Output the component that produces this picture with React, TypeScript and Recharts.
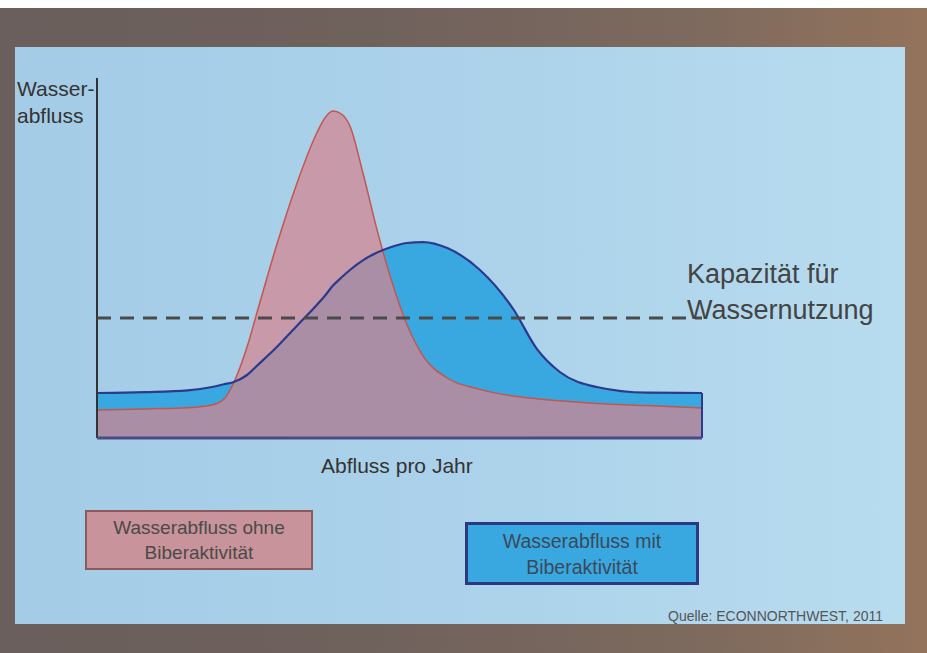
import { ComposedChart, Area, Line, XAxis, YAxis, ReferenceLine } from 'recharts';

// position along the year (0..100) and runoff heights
const xs = [0, 8, 15, 19, 21, 22.5, 24.8, 26.4, 29.8, 33.1, 36.4, 37.7, 39, 40.4, 41.8, 44, 46.3, 48.4, 51.2, 53.9, 57.9, 63.3, 68.8, 72.7, 76.5, 82.6, 90.9, 100];
const ohneBiber = [9.3, 9.7, 10.1, 11, 13, 18, 30.3, 41.5, 65, 85.2, 102, 106.8, 109, 108, 104, 88, 69.3, 54.3, 38, 27.3, 20, 16.2, 14, 13.1, 12.4, 11.5, 10.8, 10];
const mitBiber = [15, 15.3, 15.9, 17, 17.9, 18.6, 21, 24, 30.5, 37.5, 44.5, 47.5, 50.8, 53.5, 56, 59.3, 61.8, 63.5, 65, 65.3, 63.3, 56, 43, 29.7, 22, 17, 15.1, 15];
const kapazitaet = 40;

const data = xs.map((x, i) => ({ x, ohne: ohneBiber[i], mit: mitBiber[i] }));

const font = '"Liberation Sans", Arial, sans-serif';

export default function App() {
  return (
    <div style={{ position: 'absolute', left: 0, top: 0, width: 927, height: 653, overflow: 'hidden', fontFamily: font,
      background: 'linear-gradient(90deg, #6a5f5c 0%, #6f615c 40%, #7d6a5e 75%, #93735c 100%)' }}>
      <div style={{ position: 'absolute', left: 0, top: 0, width: 927, height: 8, background: '#ffffff' }} />

      {/* slide */}
      <div style={{ position: 'absolute', left: 15, top: 47, width: 890, height: 577, overflow: 'hidden',
        background: 'linear-gradient(90deg, #a5cce7 0%, #abd2ea 50%, #b8dcef 100%)' }}>
        <div style={{ position: 'absolute', left: 2, top: 28, fontSize: 21, color: '#333', lineHeight: '27px' }}>
          Wasser-<br />abfluss
        </div>
      </div>

      <div style={{ position: 'absolute', left: 0, top: 0 }}>
        <ComposedChart width={927} height={653} data={data} margin={{ top: 78, right: 225, bottom: 215, left: 97 }}>
          <XAxis dataKey="x" type="number" domain={[0, 100]} hide />
          <YAxis type="number" domain={[0, 120]} hide />
          <Area type="monotone" dataKey="mit" stroke="none" fill="#3aa8e0" fillOpacity={1} isAnimationActive={false} />
          <Area type="monotone" dataKey="ohne" stroke="#c4554f" strokeWidth={1.5} fill="#d4838f" fillOpacity={0.72} isAnimationActive={false} />
          <Line type="monotone" dataKey="mit" stroke="#2b3a8c" strokeWidth={2.2} dot={false} isAnimationActive={false} />
          <ReferenceLine segment={[{ x: 100, y: 0 }, { x: 100, y: 15 }]} stroke="#2b3a8c" strokeWidth={2} />
          <ReferenceLine x={0} stroke="#333333" strokeWidth={2} />
          <ReferenceLine y={0} stroke="#4b4a86" strokeWidth={3} />
          <ReferenceLine y={kapazitaet} stroke="#4a4a4a" strokeWidth={3} strokeDasharray="14 9" />
        </ComposedChart>
      </div>

      <div style={{ position: 'absolute', left: 687, top: 256, fontSize: 27, color: '#444', lineHeight: '36px' }}>
        Kapazität für<br />Wassernutzung
      </div>

      <div style={{ position: 'absolute', left: 321, top: 454, fontSize: 21, color: '#333' }}>Abfluss pro Jahr</div>

      <div style={{ position: 'absolute', left: 85, top: 510, width: 228, height: 60, boxSizing: 'border-box', background: '#c8939a',
        border: '2px solid #8c5a5c', display: 'flex', alignItems: 'center', justifyContent: 'center', textAlign: 'center',
        fontSize: 19, color: '#4a4a4a', lineHeight: '25px' }}>
        Wasserabfluss ohne<br />Biberaktivität
      </div>

      <div style={{ position: 'absolute', left: 465, top: 522, width: 234, height: 63, boxSizing: 'border-box', background: '#3aa8e0',
        border: '3px solid #2b3a80', display: 'flex', alignItems: 'center', justifyContent: 'center', textAlign: 'center',
        fontSize: 19.5, color: '#3a4a5a', lineHeight: '26px' }}>
        Wasserabfluss mit<br />Biberaktivität
      </div>

      <div style={{ position: 'absolute', left: 668, top: 608, fontSize: 14, color: '#555' }}>Quelle: ECONNORTHWEST, 2011</div>
    </div>
  );
}
